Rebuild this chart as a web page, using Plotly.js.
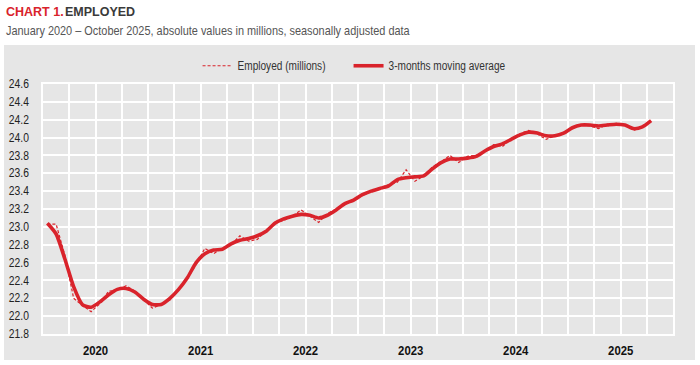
<!DOCTYPE html>
<html><head><meta charset="utf-8">
<script src="https://cdn.plot.ly/plotly-3.0.1.min.js"></script>
<style>html,body{margin:0;padding:0;background:#fff}#chart{width:700px;height:365px}</style>
</head><body><div id="chart"></div>
<script>
const months = [
'2020-01','2020-02','2020-03','2020-04','2020-05','2020-06','2020-07','2020-08','2020-09','2020-10','2020-11','2020-12',
'2021-01','2021-02','2021-03','2021-04','2021-05','2021-06','2021-07','2021-08','2021-09','2021-10','2021-11','2021-12',
'2022-01','2022-02','2022-03','2022-04','2022-05','2022-06','2022-07','2022-08','2022-09','2022-10','2022-11','2022-12',
'2023-01','2023-02','2023-03','2023-04','2023-05','2023-06','2023-07','2023-08','2023-09','2023-10','2023-11','2023-12',
'2024-01','2024-02','2024-03','2024-04','2024-05','2024-06','2024-07','2024-08','2024-09','2024-10','2024-11','2024-12',
'2025-01','2025-02','2025-03','2025-04','2025-05','2025-06','2025-07','2025-08','2025-09','2025-10'];
const years = ['2020','2021','2022','2023','2024','2025'];
const employed = [
23.03,23.03,22.68,22.20,22.12,22.05,22.14,22.28,22.29,22.34,22.28,22.19,
22.09,22.13,22.18,22.30,22.43,22.58,22.76,22.70,22.76,22.80,22.90,22.84,
22.86,22.96,23.05,23.07,23.12,23.19,23.12,23.05,23.15,23.20,23.25,23.31,
23.35,23.40,23.44,23.47,23.50,23.64,23.51,23.57,23.67,23.73,23.80,23.72,
23.79,23.80,23.84,23.92,23.90,23.98,24.04,24.08,24.04,23.98,24.02,24.05,
24.12,24.14,24.13,24.10,24.15,24.16,24.14,24.08,24.12,24.19];
const movingAvg = [
23.04,22.92,22.64,22.33,22.13,22.10,22.16,22.24,22.30,22.31,22.27,22.19,
22.13,22.13,22.20,22.30,22.43,22.60,22.70,22.74,22.75,22.81,22.85,22.87,
22.90,22.95,23.04,23.09,23.12,23.14,23.13,23.10,23.13,23.19,23.26,23.30,
23.36,23.40,23.43,23.46,23.53,23.55,23.56,23.57,23.65,23.72,23.76,23.76,
23.77,23.79,23.85,23.90,23.93,23.98,24.03,24.06,24.05,24.02,24.02,24.05,
24.11,24.14,24.14,24.13,24.14,24.15,24.14,24.10,24.12,24.19];

const FONT = '"Liberation Sans", Arial, sans-serif';
const RED = '#d9232b';
const GRAY = '#e6e6e6';
const xIdx = months.map((m, i) => i);

const traces = [
  {x: xIdx, y: employed, name: 'Employed (millions)', type: 'scatter', mode: 'lines',
   line: {color: RED, width: 1.2, dash: '3px,2px'}, hoverinfo: 'skip'},
  {x: xIdx, y: movingAvg, name: '3-months moving average', type: 'scatter', mode: 'lines',
   line: {color: RED, width: 3.6, shape: 'spline', smoothing: 0.6}, hoverinfo: 'skip'}
];

const layout = {
  width: 700, height: 365,
  margin: {l: 43, r: 27, t: 84, b: 31, pad: 0},
  paper_bgcolor: '#ffffff', plot_bgcolor: GRAY,
  showlegend: true,
  legend: {orientation: 'h', x: 0.485, xanchor: 'center', y: 1.073, yanchor: 'middle',
    bgcolor: 'rgba(0,0,0,0)', font: {family: FONT, size: 12, color: '#333'}, itemwidth: 30,
    entrywidth: 106, entrywidthmode: 'pixels'},
  xaxis: {
    range: [-0.5, 71.5], tickmode: 'array',
    tickvals: years.map((y, k) => 12 * k + 5.5), ticktext: years,
    showgrid: false, zeroline: false, ticks: '',
    tickfont: {family: FONT, size: 13.5, color: '#111', weight: 'bold'},
    ticklabelstandoff: 3,
    showline: true, linecolor: '#ffffff', linewidth: 2, mirror: true,
    minor: {tickmode: 'linear', tick0: -0.5, dtick: 3, showgrid: true, gridcolor: '#ffffff', gridwidth: 2, ticks: ''}
  },
  yaxis: {
    range: [21.8, 24.6], tickmode: 'linear', tick0: 21.8, dtick: 0.2, tickformat: '.1f',
    showgrid: true, gridcolor: '#ffffff', gridwidth: 2, zeroline: false, ticks: '',
    tickfont: {family: FONT, size: 12, color: '#222'},
    ticklabelstandoff: 10,
    showline: true, linecolor: '#ffffff', linewidth: 2, mirror: true
  },
  shapes: [{type: 'rect', xref: 'paper', yref: 'paper', x0: -0.0619, x1: 1.0349, y0: -0.104, y1: 1.156,
    fillcolor: GRAY, line: {width: 0}, layer: 'below'}],
  annotations: [
    {xref: 'paper', yref: 'paper', x: -0.0603, y: 1.287, xanchor: 'left', yanchor: 'middle', showarrow: false,
     text: '<b>CHART 1.</b>', font: {family: FONT, size: 12.5, color: RED}, borderpad: 0},
    {xref: 'paper', yref: 'paper', x: 0.0333, y: 1.287, xanchor: 'left', yanchor: 'middle', showarrow: false,
     text: '<b>EMPLOYED</b>', font: {family: FONT, size: 12.5, color: '#3a3a3a'}, borderpad: 0},
    {xref: 'paper', yref: 'paper', x: -0.0603, y: 1.214, xanchor: 'left', yanchor: 'middle', showarrow: false,
     text: 'January 2020 – October 2025, absolute values in millions, seasonally adjusted data',
     font: {family: FONT, size: 13, color: '#555'}, borderpad: 0}
  ]
};

// The reference uses a narrow (Arial Narrow-like) face; compress the real text glyphs horizontally,
// keeping each label's left edge, centre or right edge where Plotly placed it.
function squeeze(sel, f, keep) {
  document.querySelectorAll(sel).forEach(t => {
    const L = t.getComputedTextLength();
    if (L > 0) {
      const bb = t.getBBox();
      const w = L * f;
      let x = bb.x;
      if (keep === 'right') x = bb.x + bb.width - w;
      else if (keep === 'center') x = bb.x + (bb.width - w) / 2;
      t.setAttribute('textLength', w.toFixed(2));
      t.setAttribute('lengthAdjust', 'spacingAndGlyphs');
      t.setAttribute('text-anchor', 'start');
      t.style.textAnchor = 'start';
      t.setAttribute('x', x.toFixed(2));
      const g = t.parentNode;
      if (g) {
        g.querySelectorAll('rect.bg').forEach(r => {
          r.setAttribute('x', x.toFixed(2));
          r.setAttribute('width', w.toFixed(2));
        });
      }
    }
  });
}

Plotly.newPlot('chart', traces, layout, {displayModeBar: false, staticPlot: true}).then(() => {
  // only the long subtitle is compressed; the short bold title words use a smaller size instead
  const ann = document.querySelectorAll('.annotation-text');
  if (ann.length) {
    ann.forEach((t, i) => t.classList.toggle('sq', i === 2));
  }
  squeeze('.annotation-text.sq', 0.84, 'left');
  squeeze('g.ytick text', 0.86, 'right');
  squeeze('g.xtick text', 0.84, 'center');
  squeeze('.legendtext', 0.84, 'left');
  document.querySelectorAll('.legend .scrollbox').forEach(e => e.removeAttribute('clip-path'));
});
</script></body></html>
